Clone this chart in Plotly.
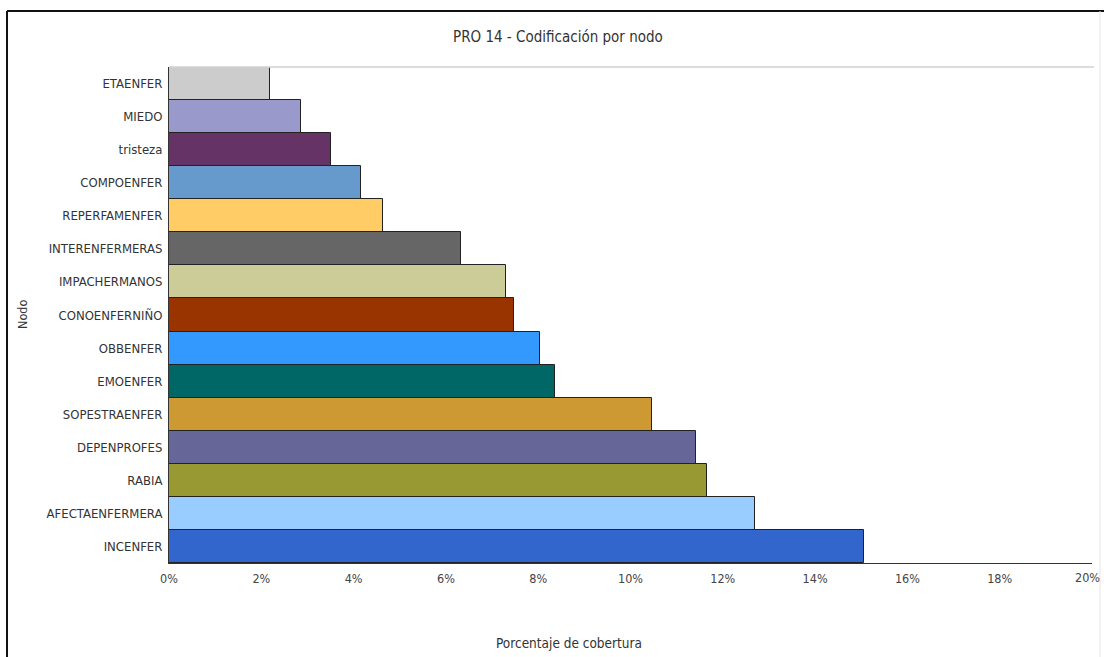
import plotly.graph_objects as go

# Coverage percentage per node, listed top to bottom
nodos = [
    "ETAENFER", "MIEDO", "tristeza", "COMPOENFER", "REPERFAMENFER",
    "INTERENFERMERAS", "IMPACHERMANOS", "CONOENFERNIÑO", "OBBENFER",
    "EMOENFER", "SOPESTRAENFER", "DEPENPROFES", "RABIA",
    "AFECTAENFERMERA", "INCENFER",
]
cobertura = [
    2.19, 2.85, 3.51, 4.15, 4.63,
    6.32, 7.30, 7.48, 8.03,
    8.37, 10.46, 11.42, 11.66,
    12.70, 15.07,
]
colores = [
    "#CCCCCC", "#9999CC", "#663366", "#6699CC", "#FFCC66",
    "#666666", "#CCCC99", "#993300", "#3399FF",
    "#006666", "#CC9933", "#666699", "#999933",
    "#99CCFF", "#3366CC",
]
ticks_x = [0, 2, 4, 6, 8, 10, 12, 14, 16, 18, 20]

FONT = "DejaVu Sans Condensed, Liberation Sans Narrow, Arial Narrow, Liberation Sans, sans-serif"

fig = go.Figure(
    go.Bar(
        x=cobertura,
        y=nodos,
        orientation="h",
        marker=dict(color=colores, line=dict(color="#222222", width=1)),
        hoverinfo="x+y",
    )
)

# the last tick sits on the chart edge; its label is drawn as an annotation
tick_text = [f"{t}%" if t != ticks_x[-1] else "" for t in ticks_x]

fig.update_layout(
    width=1104,
    height=657,
    margin=dict(l=169, r=12, t=67, b=94),
    paper_bgcolor="white",
    plot_bgcolor="white",
    font=dict(family=FONT, size=12, color="#333333"),
    bargap=0,
    showlegend=False,
    xaxis=dict(
        range=[0, 20],
        tickvals=ticks_x,
        ticktext=tick_text,
        showgrid=False,
        zeroline=False,
        showline=True,
        linecolor="#333333",
        linewidth=1,
        ticks="",
        ticklabelstandoff=4,
        tickfont=dict(size=12.5, color="#444444"),
        fixedrange=True,
    ),
    yaxis=dict(
        autorange="reversed",
        showgrid=False,
        zeroline=False,
        showline=True,
        linecolor="#333333",
        linewidth=1,
        ticks="",
        ticklabelstandoff=3,
        tickfont=dict(size=13, color="#333333"),
        fixedrange=True,
    ),
    annotations=[
        dict(text="PRO 14 - Codificación por nodo", x=0.421, y=1.0, xref="paper",
             yref="paper", yshift=30, showarrow=False, font=dict(size=15, color="#333333"),
             xanchor="center", yanchor="middle"),
        dict(text="Porcentaje de cobertura", x=0.433, y=0, xref="paper", yref="paper",
             yshift=-80, showarrow=False, font=dict(size=13.5, color="#333333"),
             xanchor="center", yanchor="middle"),
        dict(text="Nodo", x=0, y=0.5, xref="paper", yref="paper", xshift=-147,
             showarrow=False, textangle=-90, font=dict(size=12.5, color="#333333"),
             xanchor="center", yanchor="middle"),
        dict(text=f"{ticks_x[-1]}%", x=ticks_x[-1], y=0, xref="x", yref="paper",
             xshift=-5, yshift=-14, showarrow=False,
             font=dict(size=12.5, color="#444444"), xanchor="center", yanchor="middle"),
    ],
    shapes=[
        # light frame line along the top of the plot area
        dict(type="line", xref="paper", yref="paper", x0=0, x1=1.002, y0=1, y1=1,
             line=dict(color="#D0D0D0", width=1.5)),
        # outer chart border
        dict(type="line", xref="paper", yref="paper", x0=-0.1755, x1=1.02,
             y0=1.1129, y1=1.1129, line=dict(color="#111111", width=2)),
        dict(type="line", xref="paper", yref="paper", x0=-0.1755, x1=-0.1755,
             y0=1.1129, y1=-0.2, line=dict(color="#111111", width=2)),
        dict(type="line", xref="paper", yref="paper", x0=1.0087, x1=1.0087,
             y0=1.1129, y1=-0.2, line=dict(color="#E4E4E4", width=1)),
    ],
)

fig.write_html("out.html")
